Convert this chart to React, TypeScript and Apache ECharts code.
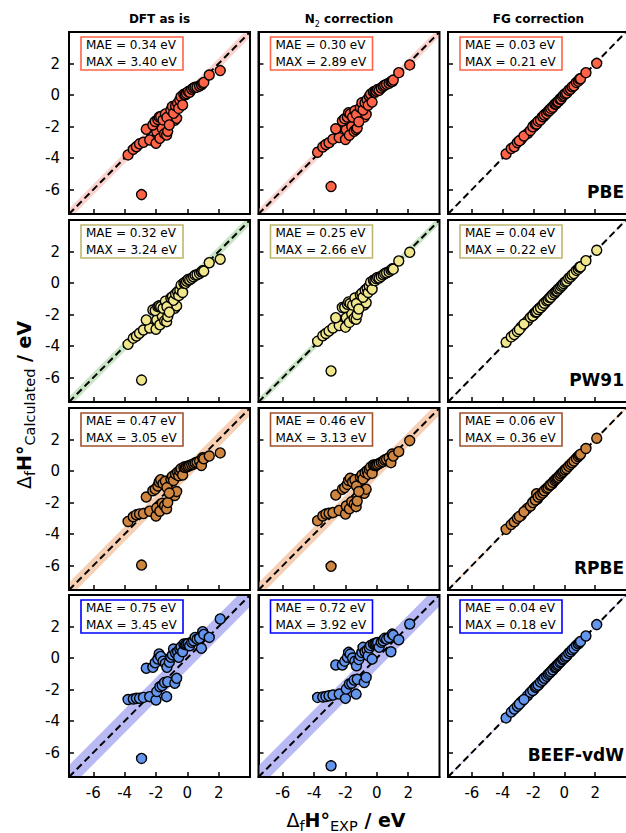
import React, { useEffect, useRef } from "react";
import * as echarts from "echarts";

// ---------------- data ----------------
const expX = [
  -3.78, -3.45, -3.25, -3.05, -2.8, -2.4,
  -2.92,
  -2.0, -1.95, -1.75, -1.6, -1.45, -1.32, -1.25, -0.8, -0.68,
  -2.62, -2.2, -2.05, -1.88, -1.8, -1.7, -1.55, -1.4, -1.3, -1.15, -1.05, -0.95, -0.88, -0.75, -0.62, -0.55, -0.48, -0.4, -0.3, -0.22, -0.12,
  -0.05, 0.05, 0.15, 0.28, 0.4, 0.5, 0.62, 0.78, 0.9, 0.98, 1.05, 1.4, 2.1,
];

const pbeDFT = [
  -3.8, -3.45, -3.28, -3.1, -3.0, -2.85,
  -6.32,
  -3.06, -2.33, -2.75, -2.12, -2.45, -2.54, -2.3, -1.6, -1.48,
  -2.17, -1.9, -1.68, -1.55, -1.4, -1.37, -1.58, -1.2, -1.42, -1.9, -0.95, -0.73, -1.16, -0.69, -0.52, -0.85, -0.31, -0.1, -0.63, 0.05, 0.02,
  0.1, 0.22, 0.18, 0.36, 0.45, 0.49, 0.5, 0.57, 0.65, 0.74, 0.8, 1.27, 1.55,
];
const pbeN2 = [
  -3.63, -3.3, -3.14, -3.03, -2.8, -2.7,
  -5.81,
  -2.82, -2.19, -2.55, -2.0, -2.3, -2.19, -2.1, -1.4, -1.23,
  -2.14, -1.65, -1.5, -1.4, -1.12, -1.2, -1.4, -1.0, -1.23, -1.7, -0.8, -0.49, -0.95, -0.5, -0.3, -0.65, -0.07, 0.05, -0.45, 0.2, 0.18,
  0.25, 0.35, 0.3, 0.45, 0.55, 0.62, 0.68, 0.75, 0.85, 0.85, 0.95, 1.42, 1.91,
];
const pbeFG = [
  -3.74, -3.4, -3.28, -3.02, -2.83, -2.45,
  -2.9,
  -1.95, -1.98, -1.72, -1.62, -1.4, -1.35, -1.22, -0.84, -0.66,
  -2.6, -2.25, -2.02, -1.85, -1.84, -1.66, -1.58, -1.38, -1.27, -1.18, -1.02, -0.98, -0.85, -0.77, -0.58, -0.57, -0.46, -0.42, -0.27, -0.25, -0.1,
  -0.02, 0.08, 0.12, 0.3, 0.37, 0.52, 0.58, 0.8, 0.88, 1.01, 1.03, 1.42, 2.01,
];

const pw91DFT = [
  -3.89, -3.5, -3.36, -3.19, -2.98, -2.85,
  -6.16,
  -2.93, -2.34, -2.65, -2.1, -2.4, -2.45, -2.13, -1.6, -1.45,
  -2.34, -1.71, -1.75, -1.5, -1.45, -1.5, -1.6, -1.15, -1.5, -1.85, -0.95, -0.87, -1.1, -0.7, -0.55, -0.8, -0.45, -0.13, -0.6, 0.0, -0.02,
  0.12, 0.23, 0.2, 0.3, 0.4, 0.5, 0.52, 0.6, 0.7, 0.78, 0.75, 1.29, 1.51,
];
const pw91N2 = [
  -3.7, -3.35, -3.2, -3.05, -2.85, -2.7,
  -5.58,
  -2.8, -2.2, -2.5, -1.95, -2.25, -2.3, -2.0, -1.4, -1.25,
  -2.2, -1.55, -1.55, -1.35, -1.2, -1.3, -1.4, -0.95, -1.3, -1.65, -0.75, -0.65, -0.9, -0.45, -0.35, -0.6, -0.2, 0.05, -0.4, 0.18, 0.15,
  0.28, 0.35, 0.32, 0.42, 0.52, 0.6, 0.65, 0.72, 0.82, 0.9, 0.88, 1.4, 1.95,
];
const pw91FG = [
  -3.76, -3.42, -3.27, -3.08, -2.78, -2.42,
  -2.95,
  -1.97, -1.96, -1.77, -1.58, -1.47, -1.3, -1.27, -0.78, -0.7,
  -2.6, -2.18, -2.08, -1.86, -1.82, -1.68, -1.57, -1.42, -1.28, -1.13, -1.07, -0.93, -0.9, -0.73, -0.64, -0.53, -0.5, -0.38, -0.32, -0.2, -0.14,
  -0.03, 0.07, 0.13, 0.3, 0.38, 0.52, 0.6, 0.8, 0.88, 1.0, 1.03, 1.42, 2.08,
];

const rpbeDFT = [
  -3.2, -2.9, -2.78, -2.72, -2.7, -2.55,
  -5.97,
  -2.85, -2.35, -2.55, -2.05, -2.2, -2.4, -2.0, -1.55, -1.3,
  -1.65, -1.25, -1.15, -0.95, -0.7, -0.55, -0.8, -0.65, -1.05, -1.4, -0.5, -0.35, -0.6, -0.2, -0.08, -0.3, 0.0, 0.15, -0.25, 0.25, 0.22,
  0.28, 0.3, 0.35, 0.4, 0.45, 0.52, 0.55, 0.62, 0.35, 0.85, 0.78, 0.95, 1.15,
];
const rpbeN2 = [
  -3.15, -2.85, -2.73, -2.68, -2.64, -2.5,
  -6.05,
  -2.73, -2.22, -2.4, -1.95, -2.1, -2.26, -1.9, -1.41, -1.15,
  -1.52, -1.16, -1.05, -0.85, -0.6, -0.46, -0.7, -0.55, -0.95, -1.3, -0.4, -0.25, -0.5, -0.1, 0.02, -0.2, 0.1, 0.25, -0.15, 0.38, 0.35,
  0.4, 0.42, 0.48, 0.55, 0.6, 0.7, 0.75, 0.85, 0.53, 1.08, 0.95, 1.23, 1.93,
];
const rpbeFG = [
  -3.7, -3.4, -3.22, -3.0, -2.82, -2.38,
  -2.88,
  -1.94, -1.9, -1.78, -1.55, -1.42, -1.3, -1.22, -0.82, -0.64,
  -2.58, -2.22, -2.0, -1.84, -1.44, -1.65, -1.52, -1.4, -1.25, -1.1, -1.04, -0.9, -0.86, -0.72, -0.6, -0.52, -0.45, -0.4, -0.28, -0.18, -0.1,
  -0.02, 0.08, 0.16, 0.3, 0.42, 0.52, 0.64, 0.8, 0.92, 1.0, 1.06, 1.43, 2.08,
];

const beefDFT = [
  -2.63, -2.6, -2.56, -2.55, -2.5, -2.45,
  -6.37,
  -2.66, -2.13, -1.82, -1.75, -1.55, -2.45, -1.5, -1.6, -1.29,
  -0.65, -0.59, -0.3, -0.06, 0.26, 0.1, -0.2, -0.35, -0.59, -0.27, 0.05, 0.2, 0.57, 0.3, 0.4, 0.05, 0.57, 0.7, 0.4, 0.89, 0.85,
  0.9, 0.92, 0.78, 1.0, 1.1, 1.31, 1.2, 1.25, 0.62, 1.67, 1.5, 1.31, 2.48,
];
const beefN2 = [
  -2.5, -2.47, -2.44, -2.4, -2.35, -2.29,
  -6.84,
  -2.56, -1.97, -1.65, -1.6, -1.4, -2.29, -1.35, -1.55, -1.23,
  -0.44, -0.44, -0.2, 0.05, 0.36, 0.25, 0.0, -0.2, -0.49, -0.1, 0.15, 0.35, 0.68, 0.4, 0.5, 0.15, 0.65, 0.8, -0.07, 0.89, 0.9,
  0.95, 0.98, 0.68, 1.0, 1.1, 1.25, 1.2, 1.3, 0.4, 1.52, 1.45, 1.16, 2.16,
];
const beefFG = [
  -3.8, -3.43, -3.24, -3.06, -2.78, -2.4,
  -2.92,
  -2.02, -1.93, -1.74, -1.62, -1.44, -1.3, -1.26, -0.8, -0.66,
  -2.63, -2.18, -2.06, -1.86, -1.8, -1.72, -1.53, -1.42, -1.28, -1.15, -1.03, -0.96, -0.86, -0.74, -0.6, -0.56, -0.46, -0.4, -0.28, -0.22, -0.1,
  -0.04, 0.06, 0.14, 0.3, 0.4, 0.52, 0.62, 0.8, 0.9, 0.98, 1.05, 1.4, 2.12,
];

const functionals = ["PBE", "PW91", "RPBE", "BEEF-vdW"];
const corrections = ["DFT as is", "N2 correction", "FG correction"];
const calcValues = [
  [pbeDFT, pbeN2, pbeFG],
  [pw91DFT, pw91N2, pw91FG],
  [rpbeDFT, rpbeN2, rpbeFG],
  [beefDFT, beefN2, beefFG],
];
const maeValues = [
  [0.34, 0.3, 0.03],
  [0.32, 0.25, 0.04],
  [0.47, 0.46, 0.06],
  [0.75, 0.72, 0.04],
];
const maxValues = [
  [3.4, 2.89, 0.21],
  [3.24, 2.66, 0.22],
  [3.05, 3.13, 0.36],
  [3.45, 3.92, 0.18],
];
const tickValues = [-6, -4, -2, 0, 2];
const AXIS_MIN = -7.55;
const AXIS_MAX = 4.0;

// ---------------- styles / layout ----------------
const markerColors = ["#FF6347", "#F0E68C", "#CD853F", "#6495ED"];
const boxColors = ["#FF6347", "#BDB76B", "#A0522D", "#0000FF"];
const bandColors = ["#fbd3ce", "#c9e5c5", "#f6cfb4", "#b9b9f4"];
const COL_LEFT = [69, 258.5, 448];
const ROW_TOP = [32, 220, 408, 595];
const W = 181;
const H = 182;
const FONT = "DejaVu Sans";

export default function App() {
  const ref = useRef<HTMLDivElement>(null);

  useEffect(() => {
    if (!ref.current) return;
    const chart = echarts.init(ref.current, undefined, { renderer: "svg" });

    const grids: any[] = [];
    const xAxes: any[] = [];
    const yAxes: any[] = [];
    const series: any[] = [];
    const graphics: any[] = [];

    for (let r = 0; r < 4; r++) {
      for (let c = 0; c < 3; c++) {
        const i = r * 3 + c;
        const left = COL_LEFT[c];
        const top = ROW_TOP[r];
        grids.push({ left, top, width: W, height: H, show: false });
        const tickCommon = {
          show: true,
          inside: true,
          length: 5,
          lineStyle: { color: "#000", width: 1.5 },
          customValues: tickValues,
        };
        xAxes.push({
          type: "value",
          gridIndex: i,
          position: "bottom",
          min: AXIS_MIN,
          max: AXIS_MAX,
          splitLine: { show: false },
          axisLine: { show: true, onZero: false, lineStyle: { color: "#000", width: 2 } },
          axisTick: tickCommon,
          axisLabel: {
            show: r === 3,
            customValues: tickValues,
            margin: 8,
            fontSize: 15,
            color: "#000",
            fontFamily: FONT,
          },
        });
        yAxes.push({
          type: "value",
          gridIndex: i,
          position: "left",
          min: AXIS_MIN,
          max: AXIS_MAX,
          splitLine: { show: false },
          axisLine: { show: true, onZero: false, lineStyle: { color: "#000", width: 2 } },
          axisTick: tickCommon,
          axisLabel: {
            show: c === 0,
            customValues: tickValues,
            margin: 9,
            fontSize: 15,
            color: "#000",
            fontFamily: FONT,
          },
        });

        const mae = maeValues[r][c];
        const band = bandColors[r];
        series.push({
          type: "custom",
          xAxisIndex: i,
          yAxisIndex: i,
          clip: true,
          silent: true,
          z: 1,
          data: [[0, 0]],
          renderItem: (_p: any, api: any) => {
            const pts = [
              api.coord([AXIS_MIN, AXIS_MIN - mae]),
              api.coord([AXIS_MAX, AXIS_MAX - mae]),
              api.coord([AXIS_MAX, AXIS_MAX + mae]),
              api.coord([AXIS_MIN, AXIS_MIN + mae]),
            ];
            return { type: "polygon", shape: { points: pts }, style: { fill: band } };
          },
        });
        series.push({
          type: "line",
          xAxisIndex: i,
          yAxisIndex: i,
          symbol: "none",
          silent: true,
          z: 2,
          data: [
            [AXIS_MIN, AXIS_MIN],
            [AXIS_MAX, AXIS_MAX],
          ],
          lineStyle: { color: "#000", width: 2, type: [7, 4] },
        });
        const ys = calcValues[r][c];
        series.push({
          type: "scatter",
          xAxisIndex: i,
          yAxisIndex: i,
          z: 3,
          symbolSize: 10,
          data: expX.map((x, k) => [x, ys[k]]),
          itemStyle: { color: markerColors[r], borderColor: "#000", borderWidth: 1.4, opacity: 1 },
        });

        // frame
        graphics.push({
          type: "rect",
          z: 100,
          silent: true,
          shape: { x: left, y: top, width: W, height: H },
          style: { fill: "none", stroke: "#000", lineWidth: 2 },
        });
        // MAE / MAX box
        graphics.push({
          type: "rect",
          z: 101,
          silent: true,
          shape: { x: left + 12, y: top + 5, width: 102, height: 33 },
          style: { fill: "#fff", stroke: boxColors[r], lineWidth: 1.6 },
        });
        graphics.push({
          type: "text",
          z: 102,
          silent: true,
          x: left + 17,
          y: top + 12.5,
          style: {
            text: `MAE = ${mae.toFixed(2)} eV`,
            fontSize: 12,
            fontFamily: FONT,
            fill: "#000",
            align: "left",
            textAlign: "left",
            verticalAlign: "middle",
            textVerticalAlign: "middle",
          },
        });
        graphics.push({
          type: "text",
          z: 102,
          silent: true,
          x: left + 17,
          y: top + 29.5,
          style: {
            text: `MAX = ${maxValues[r][c].toFixed(2)} eV`,
            fontSize: 12,
            fontFamily: FONT,
            fill: "#000",
            align: "left",
            textAlign: "left",
            verticalAlign: "middle",
            textVerticalAlign: "middle",
          },
        });
      }
      // row label
      graphics.push({
        type: "text",
        z: 102,
        silent: true,
        x: COL_LEFT[2] + W - 5,
        y: ROW_TOP[r] + H - 22,
        style: {
          text: functionals[r],
          fontSize: 17,
          fontWeight: "bold",
          fontFamily: FONT,
          fill: "#000",
          align: "right",
          textAlign: "right",
          verticalAlign: "middle",
          textVerticalAlign: "middle",
        },
      });
    }

    // column titles
    corrections.forEach((t, c) => {
      const text = t.startsWith("N2") ? "{b|N}{s|2}{b| correction}" : `{b|${t}}`;
      graphics.push({
        type: "text",
        z: 102,
        silent: true,
        x: COL_LEFT[c] + W / 2,
        y: 19,
        style: {
          text,
          fill: "#000",
          align: "center",
          textAlign: "center",
          verticalAlign: "middle",
          textVerticalAlign: "middle",
          rich: {
            b: { fontSize: 12, fontWeight: "bold", fontFamily: FONT, lineHeight: 18, verticalAlign: "middle" },
            s: { fontSize: 8, fontFamily: FONT, lineHeight: 18, verticalAlign: "bottom" },
          },
        },
      });
    });

    const labelRich = {
      n: { fontSize: 19, fontFamily: FONT, lineHeight: 26, verticalAlign: "middle", fill: "#000" },
      b: { fontSize: 19, fontWeight: "bold", fontFamily: FONT, lineHeight: 26, verticalAlign: "middle", fill: "#000" },
      s: { fontSize: 14.5, fontFamily: FONT, lineHeight: 26, verticalAlign: "bottom", fill: "#000" },
    };
    // x label
    graphics.push({
      type: "text",
      z: 102,
      silent: true,
      x: 346,
      y: 820,
      style: {
        text: "{n|Δ}{s|f}{b|H°}{s|EXP}{b| / eV}",
        align: "center",
        textAlign: "center",
        verticalAlign: "middle",
        textVerticalAlign: "middle",
        rich: labelRich,
      },
    });
    // y label
    graphics.push({
      type: "text",
      z: 102,
      silent: true,
      x: 24,
      y: 405,
      rotation: Math.PI / 2,
      style: {
        text: "{n|Δ}{s|f}{b|H°}{s|Calculated}{b| / eV}",
        align: "center",
        textAlign: "center",
        verticalAlign: "middle",
        textVerticalAlign: "middle",
        rich: labelRich,
      },
    });

    chart.setOption({
      animation: false,
      backgroundColor: "#fff",
      textStyle: { fontFamily: FONT },
      grid: grids,
      xAxis: xAxes,
      yAxis: yAxes,
      series,
      graphic: { elements: graphics },
    });

    return () => chart.dispose();
  }, []);

  return (
    <div
      ref={ref}
      style={{ position: "absolute", left: 0, top: 0, width: 626, height: 833 }}
    />
  );
}
